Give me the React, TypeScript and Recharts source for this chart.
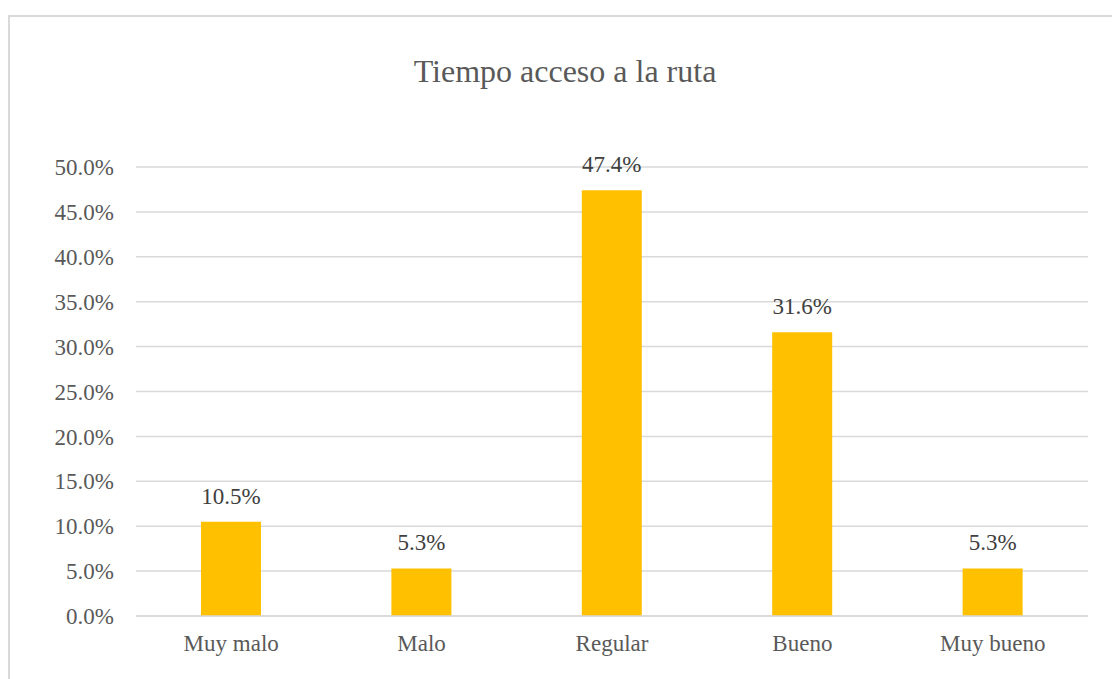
import React from "react";
import { BarChart, Bar, XAxis, YAxis, CartesianGrid, LabelList } from "recharts";

const categories = ["Muy malo", "Malo", "Regular", "Bueno", "Muy bueno"];
const values = [10.5, 5.3, 47.4, 31.6, 5.3];
const yTicks = [0, 5, 10, 15, 20, 25, 30, 35, 40, 45, 50];

const data = categories.map((name, i) => ({ name, value: values[i] }));

const FONT = "'Liberation Serif', 'Times New Roman', serif";
const pct = (v: number) => `${v.toFixed(1)}%`;

export default function App() {
  return (
    <div style={{ position: "absolute", left: 0, top: 0, width: 1112, height: 679, overflow: "hidden", background: "#fff" }}>
      <div
        style={{
          position: "absolute",
          left: 8,
          top: 15,
          width: 1300,
          height: 900,
          border: "2px solid #d9d9d9",
        }}
      />
      <div
        style={{
          position: "absolute",
          left: 0,
          top: 55,
          width: 1130,
          textAlign: "center",
          fontFamily: FONT,
          fontSize: 32,
          lineHeight: "32px",
          color: "#595959",
        }}
      >
        Tiempo acceso a la ruta
      </div>
      <div style={{ position: "absolute", left: 0, top: 0 }}>
        <BarChart
          width={1112}
          height={679}
          data={data}
          margin={{ top: 167, right: 24, bottom: 0, left: 0 }}
          barSize={60}
        >
          <CartesianGrid vertical={false} stroke="#d9d9d9" strokeWidth={1.5} />
          <XAxis
            dataKey="name"
            height={63}
            axisLine={{ stroke: "#d9d9d9", strokeWidth: 1.5 }}
            tickLine={false}
            tickSize={0}
            tickMargin={19}
            interval={0}
            tick={{ fill: "#595959", fontSize: 23, fontFamily: FONT }}
          />
          <YAxis
            width={136}
            domain={[0, 50]}
            ticks={yTicks}
            tickFormatter={pct}
            axisLine={false}
            tickLine={false}
            tickSize={0}
            tickMargin={22}
            tick={{ fill: "#595959", fontSize: 23, fontFamily: FONT }}
          />
          <Bar dataKey="value" fill="#FFC000" isAnimationActive={false}>
            <LabelList
              dataKey="value"
              position="top"
              offset={18}
              formatter={(v: any) => pct(Number(v))}
              style={{ fill: "#404040", fontSize: 23, fontFamily: FONT }}
            />
          </Bar>
        </BarChart>
      </div>
    </div>
  );
}
